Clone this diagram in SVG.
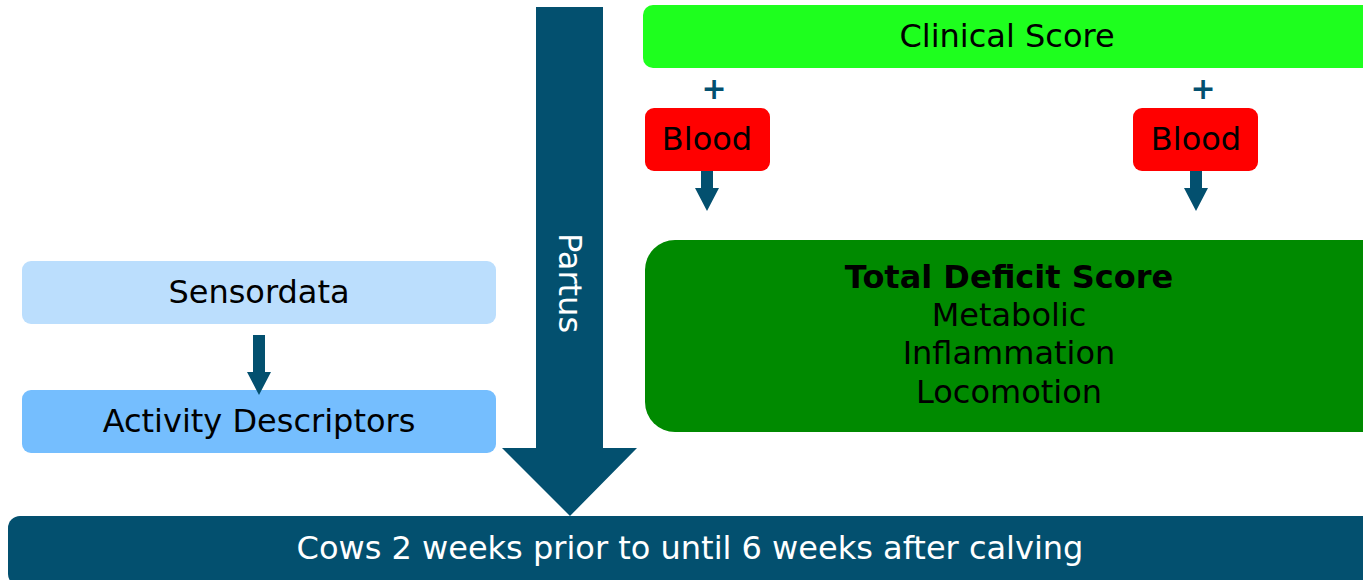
<svg xmlns="http://www.w3.org/2000/svg" width="1363" height="580" viewBox="0 0 1363 580">
<style>
text{font-family:"DejaVu Sans",Verdana,sans-serif;font-size:32px;text-anchor:middle;dominant-baseline:central;fill:#000}
.w{fill:#fff}
.dark{fill:#03506f}
.plus{fill:#03506f;font-weight:bold;font-size:30px}
</style>
<rect width="1363" height="580" fill="#fff"/>
<g id="clinical">
<rect x="643" y="5" width="740" height="63" rx="10" fill="#1eff1e"/>
<text x="1007" y="36">Clinical Score</text>
</g>
<g id="plus1"><text x="714" y="88" class="plus">+</text></g>
<g id="plus2"><text x="1203" y="88" class="plus">+</text></g>
<g id="blood1">
<rect x="645" y="108" width="125" height="63" rx="9" fill="#ff0000"/>
<text x="707" y="139">Blood</text>
</g>
<g id="blood2">
<rect x="1133" y="108" width="125" height="63" rx="9" fill="#ff0000"/>
<text x="1196" y="139">Blood</text>
</g>
<g id="tds">
<rect x="645" y="240" width="750" height="192" rx="30" fill="#008a00"/>
<text x="1009" y="277" style="font-weight:bold">Total Deficit Score</text>
<text x="1009" y="315">Metabolic</text>
<text x="1009" y="353">Inflammation</text>
<text x="1009" y="392">Locomotion</text>
</g>
<g id="sensordata">
<rect x="22" y="261" width="474" height="63" rx="9" fill="#bbdefd"/>
<text x="259" y="292">Sensordata</text>
</g>
<g id="activity">
<rect x="22" y="390" width="474" height="63" rx="9" fill="#75befe"/>
<text x="259" y="421">Activity Descriptors</text>
</g>
<g id="cows">
<rect x="8" y="516" width="1380" height="70" rx="12" class="dark"/>
<text x="690" y="548" class="w">Cows 2 weeks prior to until 6 weeks after calving</text>
</g>
<g id="connectors" class="dark">
<g id="partus">
<polygon points="536,7 603,7 603,448 637,448 570,516 502,448 536,448" class="dark"/>
<text x="570" y="283" class="w" transform="rotate(90 570 283)">Partus</text>
</g>
<polygon points="701,171 713,171 713,188 719,188 707,211 695,188 701,188" class="dark"/>
<polygon points="1190,171 1202,171 1202,188 1208,188 1196,211 1184,188 1190,188" class="dark"/>
<polygon points="253,335 265,335 265,372 271,372 259,395 247,372 253,372" class="dark"/>
</g>
</svg>
